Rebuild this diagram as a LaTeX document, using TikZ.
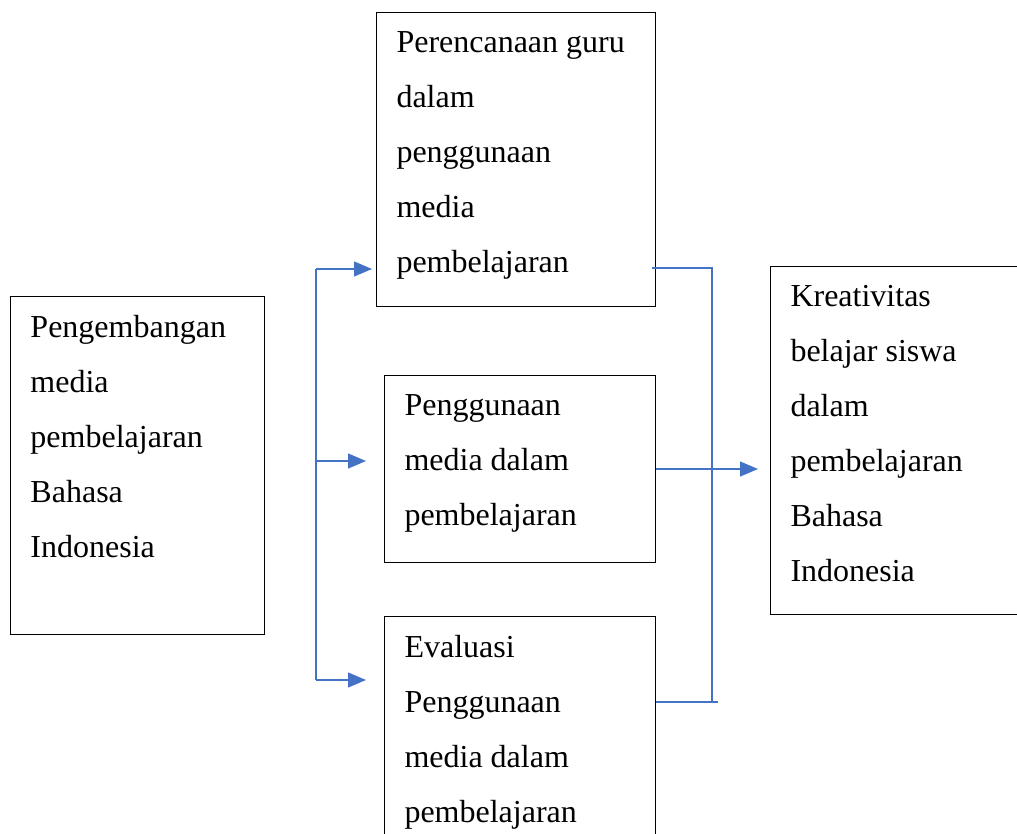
\documentclass[tikz,border=0pt]{standalone}
\usepackage{fontspec}
\setmainfont{Liberation Serif}
\usetikzlibrary{arrows.meta}
\definecolor{linkblue}{HTML}{4472C4}
\newcommand{\boxlines}[3]{\parbox[c][#2][t]{#1}{\raggedright #3}}
\begin{document}
\begin{tikzpicture}[x=1pt,y=-1pt,
    box/.style={draw,line width=1pt,anchor=north west,inner xsep=20pt,inner ysep=19pt,
      font=\fontsize{32}{55}\selectfont},
    link/.style={draw=linkblue,line width=1.1pt},
    flow/.style={link,-{Triangle[length=18pt,width=15pt]},linkblue}]
  \clip (0,0) rectangle (1017,833);

  \node[box] (dev) at (10,296) {\boxlines{214pt}{300pt}{Pengembangan\\media\\pembelajaran\\Bahasa\\Indonesia}};
  \node[box] (plan) at (376,12) {\boxlines{239pt}{256pt}{Perencanaan guru\\dalam\\penggunaan\\media\\pembelajaran}};
  \node[box] (use) at (384,375) {\boxlines{231pt}{149pt}{Penggunaan\\media dalam\\pembelajaran}};
  \node[box] (eval) at (384,616) {\boxlines{231pt}{202pt}{Evaluasi\\Penggunaan\\media dalam\\pembelajaran}};
  \node[box] (krea) at (770,266) {\boxlines{215pt}{310pt}{Kreativitas\\belajar siswa\\dalam\\pembelajaran\\Bahasa\\Indonesia}};

  \coordinate (lt) at (316,269);
  \coordinate (lm) at (316,461);
  \coordinate (lb) at (316,680);
  \coordinate (rt) at (712,268);
  \coordinate (rb) at (712,702);

  \draw[link] (lt) -- (lb);
  \draw[flow] (lt) -- ([xshift=-4pt]plan.west |- lt);
  \draw[flow] (lm) -- ([xshift=-18pt]use.west |- lm);
  \draw[flow] (lb) -- ([xshift=-18pt]eval.west |- lb);

  \draw[link] ([xshift=-4pt]plan.east |- rt) -- (rt) -- (rb);
  \draw[link] (eval.east |- rb) -- ([xshift=6pt]rb);
  \draw[flow] (use.east) -- ([xshift=-12pt]krea.west |- use.east);
\end{tikzpicture}
\end{document}
